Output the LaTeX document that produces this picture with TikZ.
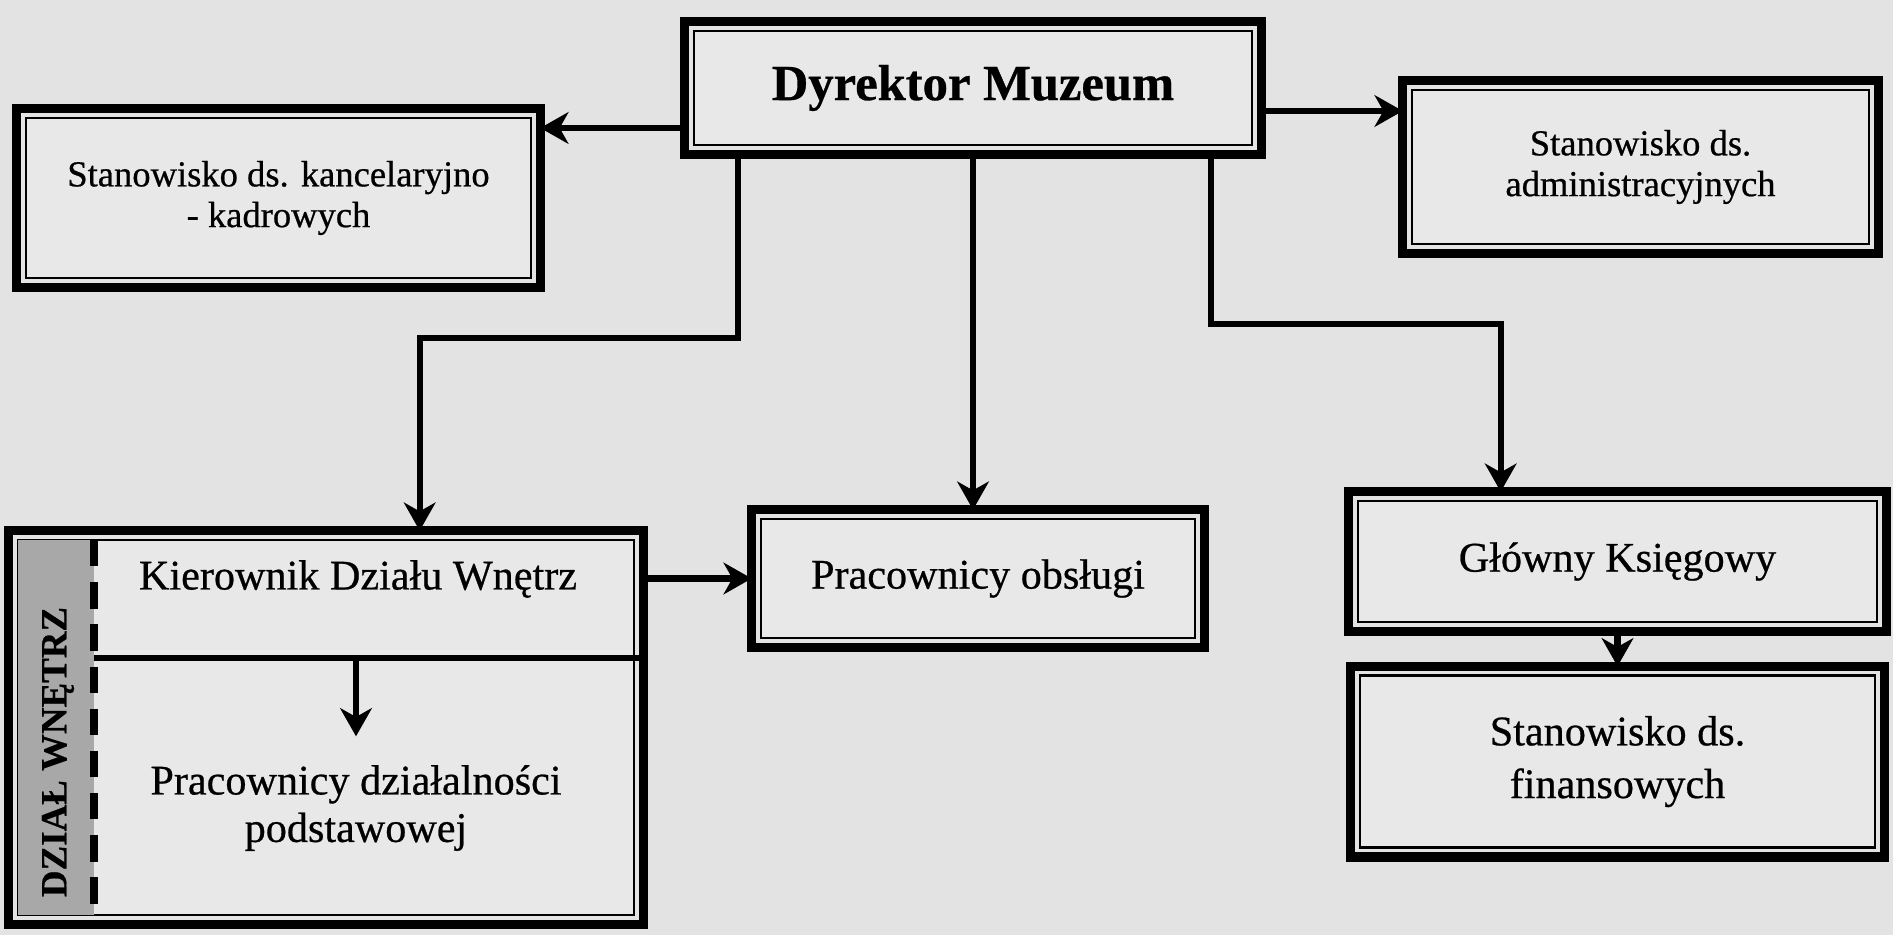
\documentclass[tikz,border=0pt]{standalone}
\usepackage{fontspec}
\setmainfont{Liberation Serif}[FakeBold=0.6]
\usetikzlibrary{arrows.meta, positioning, calc}
\definecolor{paper}{gray}{0.89}
\definecolor{boxfill}{gray}{0.91}
\definecolor{stripgray}{gray}{0.66}
\tikzstyle{arrow} = [line width=1.8pt, -{Stealth[length=8pt, width=9pt, inset=2.5pt]}]

\begin{document}
\begin{tikzpicture}[
	x=0.1mm, y=-0.1mm,
	every node/.style={font=\fontsize{12}{15}\selectfont},
	post/.style={rectangle, draw=black, line width=0.7pt, fill=boxfill, align=center, inner sep=0pt, outer sep=2.65pt},
	small/.style={font=\fontsize{10.4}{11.6}\selectfont},
	frame/.style={line width=2.6pt, line join=miter}
]
\fill[paper] (0,0) rectangle (1893,935);
\useasboundingbox (0,0) rectangle (1893,935);

% Posts
\node[post, minimum width=55.8mm, minimum height=11.4mm, font=\fontsize{14.4}{16}\selectfont\bfseries] (dyr) at (973,88) {Dyrektor Muzeum};
\node[post, small, minimum width=50.5mm, minimum height=16mm] (kanc) at (278.5,198) {Stanowisko ds. kancelaryjno\\- kadrowych};
\node[post, small, minimum width=45.7mm, minimum height=15.4mm] (adm) at (1640.5,167) {Stanowisko ds.\\administracyjnych};
\node[post, minimum width=43.4mm, minimum height=11.9mm] (obs) at (978,578.5) {Pracownicy obsługi};
\node[post, minimum width=51.9mm, minimum height=12.1mm] (glow) at (1617.5,561.5) {Główny Księgowy};
\node[post, minimum width=51.5mm, minimum height=17.2mm, below=3.5mm of glow] (fin) {Stanowisko ds.\\finansowych};

% Department box
\node[post, minimum width=61.6mm, minimum height=37.5mm] (dzial) at (326,727.5) {};
\fill[stripgray] (18,540) rectangle (94,915);
\draw[line width=2.2pt, dash pattern=on 7.5pt off 4.5pt] (94,540) -- (94,915);
\coordinate (divL) at (94,658);
\draw[line width=1.5pt] (divL) -- (dzial.east |- divL);
\node[rotate=90, font=\fontsize{10.5}{12}\selectfont\bfseries] (dzlab) at (58,752) {DZIAŁ WNĘTRZ};
\node (kier) at (358,579) {Kierownik Działu Wnętrz};
\node[align=center, inner sep=8pt, font=\fontsize{12}{13.5}\selectfont] (prac) at (356,808) {Pracownicy działalności\\podstawowej};
\draw[arrow] (prac.north |- divL) -- (prac.north);

% Frames
\foreach \n in {dyr,kanc,adm,obs,glow,fin,dzial} {
	\draw[frame] (\n.south west) rectangle (\n.north east);
	\draw[frame, xshift=1pt, yshift=-1pt] (\n.south west) -- (\n.south east) -- (\n.north east);
}

% Connectors
\draw[arrow] ([yshift=-4mm]dyr.west) -- ([yshift=-4mm]dyr.west -| kanc.east);
\draw[arrow] ([yshift=-2.3mm]dyr.east) -- ([yshift=-2.3mm]dyr.east -| adm.west);
\draw[arrow] ([xshift=5.3mm]dyr.south west) -- ++(0,184) -| ([xshift=41.1mm]dzial.north west);
\draw[arrow] (dyr.south) -- (dyr.south |- obs.north);
\draw[arrow] ([xshift=-5mm]dyr.south east) -- ++(0,170) -| ([xshift=15.2mm]glow.north west);
\draw[arrow] (dzial.east |- obs.west) -- (obs.west);
\draw[arrow] (glow.south) -- (fin.north);

\end{tikzpicture}
\end{document}
